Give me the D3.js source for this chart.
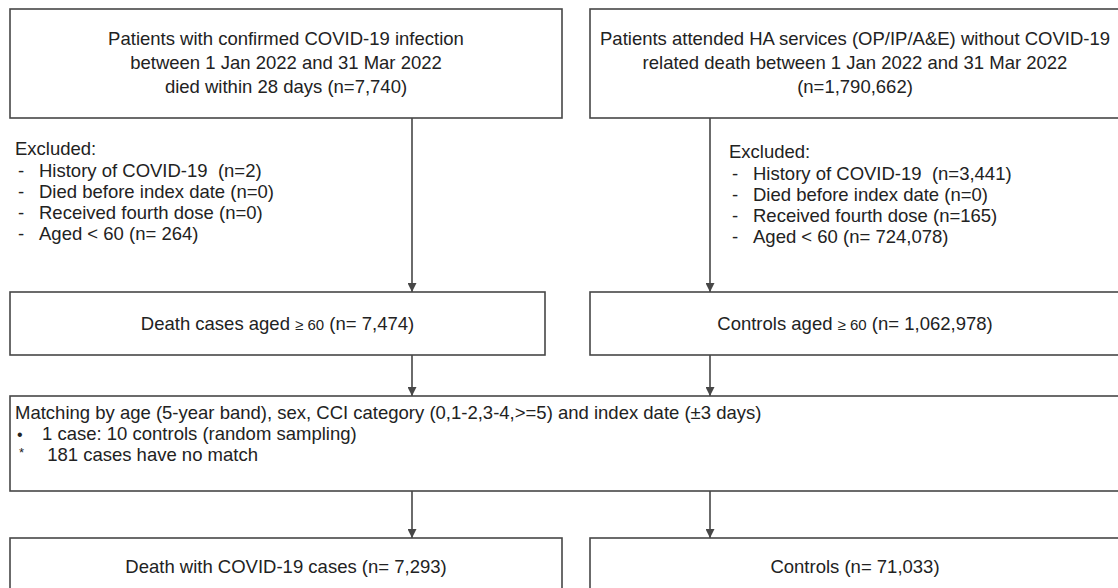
<!DOCTYPE html>
<html>
<head>
<meta charset="utf-8">
<script src="https://cdn.jsdelivr.net/npm/d3@7"></script>
<style>
  html, body { margin: 0; padding: 0; background: #fff; }
  svg { display: block; font-family: "Liberation Sans", Arial, sans-serif; }
</style>
</head>
<body>
<div id="chart"></div>
<script>
// flowchart text, one list per box
const topLeftLines = [
  "Patients with confirmed COVID-19 infection",
  "between 1 Jan 2022 and 31 Mar 2022",
  "died within 28 days (n=7,740)"
];
const topRightLines = [
  "Patients attended HA services (OP/IP/A&E) without COVID-19",
  "related death between 1 Jan 2022 and 31 Mar 2022",
  "(n=1,790,662)"
];
const excludedTitle = "Excluded:";
const excludedLeft = [
  "History of COVID-19  (n=2)",
  "Died before index date (n=0)",
  "Received fourth dose (n=0)",
  "Aged < 60 (n= 264)"
];
const excludedRight = [
  "History of COVID-19  (n=3,441)",
  "Died before index date (n=0)",
  "Received fourth dose (n=165)",
  "Aged < 60 (n= 724,078)"
];
const agedLabels = ["Death cases aged ≥ 60 (n= 7,474)", "Controls aged ≥ 60 (n= 1,062,978)"];
const matchingTitle = "Matching by age (5-year band), sex, CCI category (0,1-2,3-4,>=5) and index date (±3 days)";
const matchingItems = [
  {mark: "•", text: "1 case: 10 controls (random sampling)"},
  {mark: "*", text: " 181 cases have no match"}
];
const finalLabels = ["Death with COVID-19 cases (n= 7,293)", "Controls (n= 71,033)"];

const width = 1118, height = 588;
const stroke = "#474747", ink = "#222";
const fs = 18.5;

const svg = d3.select("#chart").append("svg")
    .attr("width", width)
    .attr("height", height);

svg.append("defs").append("marker")
    .attr("id", "arrow")
    .attr("viewBox", "0 0 10 10")
    .attr("refX", 10).attr("refY", 5)
    .attr("markerWidth", 9).attr("markerHeight", 9)
    .attr("markerUnits", "userSpaceOnUse")
    .attr("orient", "auto")
  .append("path")
    .attr("d", "M0,0 L10,5 L0,10 Z")
    .attr("fill", stroke);

// two columns; right one runs past the page edge like the original
const cols = [{x0: 10, x1: 562}, {x0: 590, x1: 1130}];
const arrowX = [412, 710];
const textX = [286, 855];

function box(x0, y0, x1, y1) {
  svg.append("rect")
      .attr("x", x0).attr("y", y0)
      .attr("width", x1 - x0).attr("height", y1 - y0)
      .attr("fill", "none")
      .attr("stroke", stroke)
      .attr("stroke-width", 1.6);
}
function arrow(x, y0, y1) {
  svg.append("line")
      .attr("x1", x).attr("x2", x)
      .attr("y1", y0).attr("y2", y1)
      .attr("stroke", stroke)
      .attr("stroke-width", 1.6)
      .attr("marker-end", "url(#arrow)");
}
function label(x, y, txt, anchor, size) {
  const t = svg.append("text")
      .attr("x", x).attr("y", y)
      .attr("dy", "0.35em")
      .attr("text-anchor", anchor || "middle")
      .attr("font-size", size || fs)
      .attr("fill", ink)
      .style("white-space", "pre");
  // the "≥ 60" is set a little smaller in the source figure
  const parts = txt.split(/(≥ 60)/);
  parts.forEach(p => {
    if (p === "") return;
    t.append("tspan").attr("font-size", p === "≥ 60" ? 15 : (size || fs)).text(p);
  });
  return t;
}

// row 1: source populations
box(cols[0].x0, 9, cols[0].x1, 118);
box(cols[1].x0, 9, cols[1].x1, 118);
topLeftLines.forEach((s, i) => label(textX[0], 39 + i * 24, s));
topRightLines.forEach((s, i) => label(textX[1], 39 + i * 24, s));

// exclusions
const exX = [15, 729], exY = [149, 152];
[excludedLeft, excludedRight].forEach((list, c) => {
  label(exX[c], exY[c], excludedTitle, "start");
  list.forEach((s, i) => {
    label(exX[c] + 3, exY[c] + (i + 1) * 21.2, "-", "start");
    label(exX[c] + 24, exY[c] + (i + 1) * 21.2, s, "start");
  });
});

arrowX.forEach(x => arrow(x, 118, 292));

// row 2: aged >= 60
box(cols[0].x0, 292, 545, 355);
box(cols[1].x0, 292, cols[1].x1, 355);
label((cols[0].x0 + 545) / 2, 324, agedLabels[0]);
label(textX[1], 324, agedLabels[1]);

arrowX.forEach(x => arrow(x, 355, 396));

// row 3: matching
box(10, 396, 1130, 491);
label(15, 413, matchingTitle, "start");
matchingItems.forEach((d, i) => {
  const y = 434 + i * 21;
  if (d.mark === "*") label(19, y - 3, d.mark, "start", 13);
  else label(17, y, d.mark, "start", 16);
  label(42, y, d.text, "start");
});

arrowX.forEach(x => arrow(x, 491, 538));

// row 4: matched groups (cut by the page bottom)
box(cols[0].x0, 538, cols[0].x1, 600);
box(cols[1].x0, 538, cols[1].x1, 600);
label(textX[0], 567, finalLabels[0]);
label(textX[1], 567, finalLabels[1]);
</script>
</body>
</html>
